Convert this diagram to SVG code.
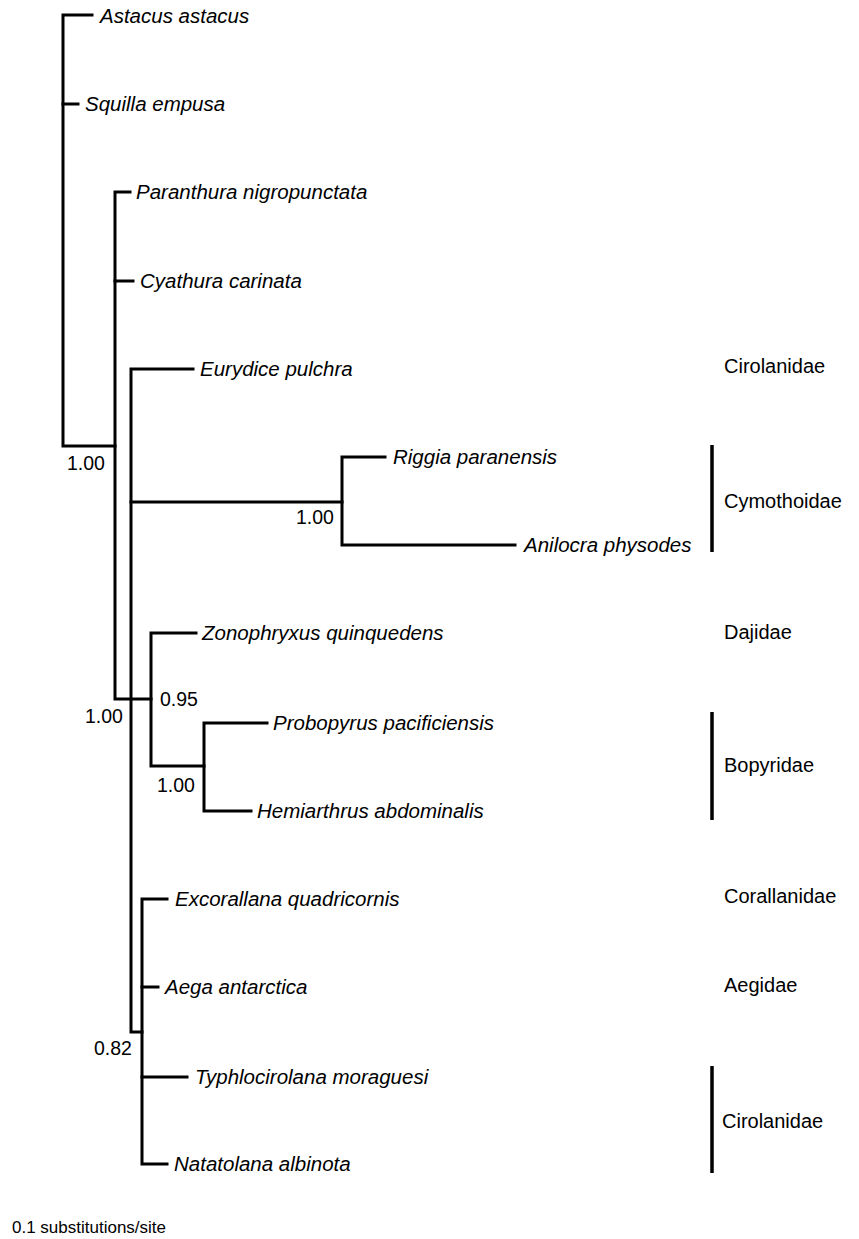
<svg xmlns="http://www.w3.org/2000/svg" width="859" height="1239" viewBox="0 0 859 1239">
<style>
.br{fill:none;stroke:#000;stroke-width:3;stroke-linejoin:miter;stroke-linecap:square}
.bar{stroke:#000;stroke-width:3.5}
.sp{font-family:"Liberation Sans",Arial,sans-serif;font-size:20.5px;font-style:italic;fill:#000}
.sup{font-family:"Liberation Sans",Arial,sans-serif;font-size:19.5px;fill:#000}
.fam{font-family:"Liberation Sans",Arial,sans-serif;font-size:20px;fill:#000}
.sc{font-family:"Liberation Sans",Arial,sans-serif;font-size:17px;fill:#000}
</style>
<rect width="859" height="1239" fill="#fff"/>
<g id="connectors">
<path class="br" d="M92,15 H63 V446 H115"/>
<path class="br" d="M63,104 H78"/>
<path class="br" d="M130,192 H115 V699 H151"/>
<path class="br" d="M115,281 H133"/>
<path class="br" d="M193,369 H131 V1032 H142"/>
<path class="br" d="M131,502 H342"/>
<path class="br" d="M385,457 H342 V545 H515"/>
<path class="br" d="M196,633 H151 V766 H204"/>
<path class="br" d="M267,723 H204 V811 H251"/>
<path class="br" d="M167,899 H142 V1164 H167"/>
<path class="br" d="M142,987 H158"/>
<path class="br" d="M142,1077 H187"/>
</g>
<g id="taxa">
<g id="n-astacus"><text class="sp" x="100" y="23">Astacus astacus</text></g>
<g id="n-squilla"><text class="sp" x="85" y="111">Squilla empusa</text></g>
<g id="n-paranthura"><text class="sp" x="136" y="199">Paranthura nigropunctata</text></g>
<g id="n-cyathura"><text class="sp" x="140" y="288">Cyathura carinata</text></g>
<g id="n-eurydice"><text class="sp" x="200" y="376">Eurydice pulchra</text></g>
<g id="n-riggia"><text class="sp" x="393" y="464">Riggia paranensis</text></g>
<g id="n-anilocra"><text class="sp" x="524" y="552">Anilocra physodes</text></g>
<g id="n-zonophryxus"><text class="sp" x="202" y="640">Zonophryxus quinquedens</text></g>
<g id="n-probopyrus"><text class="sp" x="273" y="730">Probopyrus pacificiensis</text></g>
<g id="n-hemiarthrus"><text class="sp" x="257" y="818">Hemiarthrus abdominalis</text></g>
<g id="n-excorallana"><text class="sp" x="175" y="906">Excorallana quadricornis</text></g>
<g id="n-aega"><text class="sp" x="165" y="994">Aega antarctica</text></g>
<g id="n-typhlocirolana"><text class="sp" x="195" y="1084">Typhlocirolana moraguesi</text></g>
<g id="n-natatolana"><text class="sp" x="174" y="1171">Natatolana albinota</text></g>
</g>
<g id="support">
<text class="sup" x="67" y="470">1.00</text>
<text class="sup" x="85" y="723">1.00</text>
<text class="sup" x="296" y="524">1.00</text>
<text class="sup" x="160" y="706">0.95</text>
<text class="sup" x="157" y="792">1.00</text>
<text class="sup" x="94" y="1055">0.82</text>
</g>
<g id="families">
<g id="f-cirolanidae1"><text class="fam" x="724" y="373">Cirolanidae</text></g>
<g id="f-cymothoidae"><line class="bar" x1="712" y1="445" x2="712" y2="552"/><text class="fam" x="724" y="508">Cymothoidae</text></g>
<g id="f-dajidae"><text class="fam" x="724" y="639">Dajidae</text></g>
<g id="f-bopyridae"><line class="bar" x1="712" y1="712" x2="712" y2="820"/><text class="fam" x="724" y="772">Bopyridae</text></g>
<g id="f-corallanidae"><text class="fam" x="724" y="903">Corallanidae</text></g>
<g id="f-aegidae"><text class="fam" x="724" y="992">Aegidae</text></g>
<g id="f-cirolanidae2"><line class="bar" x1="712" y1="1066" x2="712" y2="1173"/><text class="fam" x="722" y="1128">Cirolanidae</text></g>
</g>
<g id="scale"><text class="sc" x="12" y="1233">0.1 substitutions/site</text></g>
</svg>
